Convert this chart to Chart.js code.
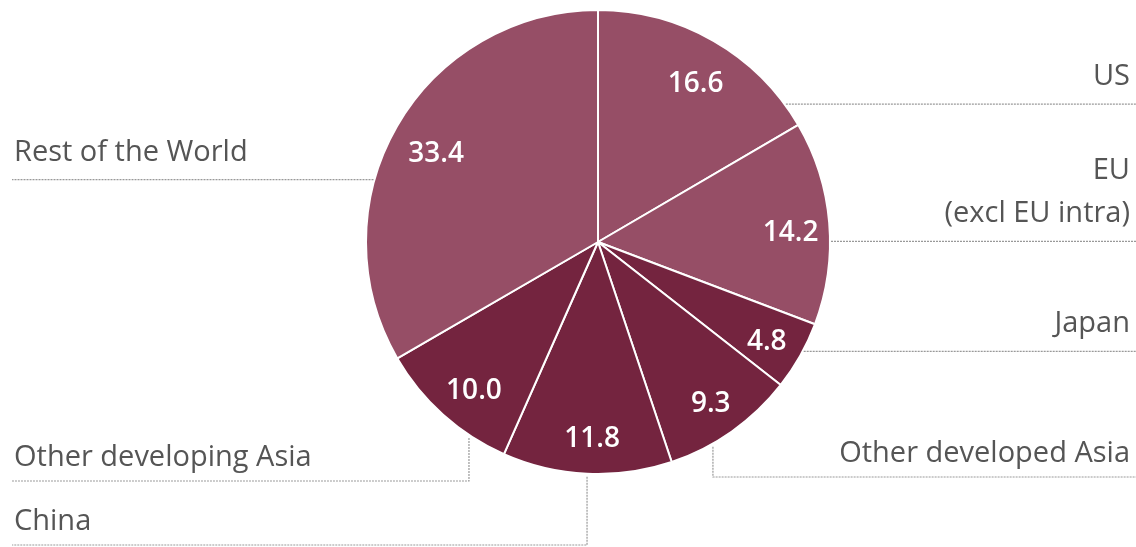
<!DOCTYPE html>
<html>
<head>
<meta charset="utf-8">
<script src="https://cdn.jsdelivr.net/npm/chart.js@4.4.1/dist/chart.umd.min.js"></script>
<style>
  html, body { margin: 0; padding: 0; background: #fff; }
  #wrap { width: 1136px; height: 547px; position: relative; }
</style>
</head>
<body>
<div id="wrap"><canvas id="myChart"></canvas></div>
<script>
// data, clockwise from 12 o'clock
const regions = ['US', 'EU (excl EU intra)', 'Japan', 'Other developed Asia', 'China', 'Other developing Asia', 'Rest of the World'];
const shares = [16.6, 14.2, 4.8, 9.3, 11.8, 10.0, 33.4];
const valueLabels = ['16.6', '14.2', '4.8', '9.3', '11.8', '10.0', '33.4'];
const labelLines = [['US'], ['EU', '(excl EU intra)'], ['Japan'], ['Other developed Asia'], ['China'], ['Other developing Asia'], ['Rest of the World']];

const light = '#964e66';
const dark = '#74243f';
const sliceColors = [light, light, dark, dark, dark, dark, light];

// where each leader line leaves its slice (fraction of the slice's angle),
// which side its label sits on, and for elbow leaders the y of the horizontal run
const leaders = [
  { side: 'right', at: 0.90 },
  { side: 'right', at: 0.59 },
  { side: 'right', at: 0.42 },
  { side: 'right', at: 0.67, drop: 477 },
  { side: 'left', at: 0.50, drop: 545 },
  { side: 'left', at: 0.27, drop: 481 },
  { side: 'left', at: 0.38 }
];

const labelFont = '400 29px "Open Sans", sans-serif';
const valueFont = '600 28px "Open Sans", sans-serif';

const pieLabels = {
  id: 'pieLabels',
  afterDatasetsDraw(chart) {
    const ctx = chart.ctx;
    const arcs = chart.getDatasetMeta(0).data;
    const W = chart.width;

    // values inside the slices
    ctx.save();
    ctx.font = valueFont;
    ctx.fillStyle = '#ffffff';
    ctx.textAlign = 'center';
    ctx.textBaseline = 'middle';
    arcs.forEach((arc, i) => {
      const mid = (arc.startAngle + arc.endAngle) / 2;
      const r = arc.outerRadius * 0.82;
      ctx.fillText(valueLabels[i], arc.x + Math.cos(mid) * r + 3, arc.y + Math.sin(mid) * r + 7);
    });
    ctx.restore();

    // leader lines and region names
    ctx.save();
    ctx.strokeStyle = '#999999';
    ctx.lineWidth = 1.2;
    ctx.setLineDash([2, 1]);
    ctx.font = labelFont;
    ctx.fillStyle = '#555555';
    ctx.textBaseline = 'alphabetic';
    arcs.forEach((arc, i) => {
      const L = leaders[i];
      const a = arc.startAngle + (arc.endAngle - arc.startAngle) * L.at;
      const ax = arc.x + Math.cos(a) * (arc.outerRadius + 1);
      const ay = arc.y + Math.sin(a) * (arc.outerRadius + 1);
      const endX = L.side === 'right' ? W : 12;
      let lineY = ay;
      ctx.beginPath();
      if (L.drop) {
        lineY = L.drop;
        ctx.moveTo(ax, ay + 2);
        ctx.lineTo(ax, lineY);
        ctx.lineTo(endX, lineY);
      } else {
        ctx.moveTo(ax, ay);
        ctx.lineTo(endX, ay);
      }
      ctx.stroke();

      const lines = labelLines[i];
      const gap = L.drop ? 15 : 19;
      const step = 43;
      ctx.textAlign = L.side === 'right' ? 'right' : 'left';
      const tx = L.side === 'right' ? W - 6 : 14;
      lines.forEach((t, k) => {
        const by = lineY - gap - (lines.length - 1 - k) * step;
        ctx.fillText(t, tx, by);
      });
    });
    ctx.restore();
  }
};

const ctx = document.getElementById('myChart').getContext('2d');
const myChart = new Chart(ctx, {
  type: 'pie',
  data: {
    labels: regions,
    datasets: [{
      data: shares,
      backgroundColor: sliceColors,
      borderColor: '#ffffff',
      borderWidth: 2,
      hoverOffset: 0
    }]
  },
  options: {
    responsive: true,
    maintainAspectRatio: false,
    animation: false,
    layout: {
      padding: { top: 9, bottom: 72, left: 365, right: 305 }
    },
    plugins: {
      legend: { display: false },
      tooltip: { enabled: false }
    }
  },
  plugins: [pieLabels]
});
</script>
</body>
</html>
